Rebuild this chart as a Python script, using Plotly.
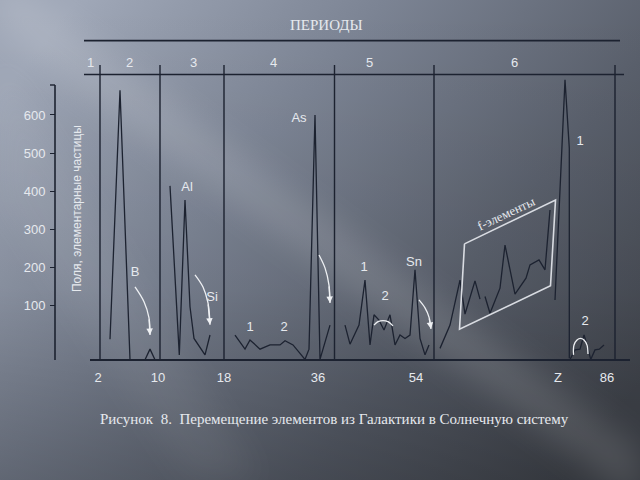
import base64
import plotly.graph_objects as go

# ---------------- data (x = horizontal position along Z-scale, y = value) ----------------
p2_x = [110, 120, 130]
p2_y = [12, 665, -42]
p2b_x = [145, 150, 155]
p2b_y = [-42, -14, -42]

p3_x = [170, 179.3, 185, 190, 194, 205, 210]
p3_y = [414, -29, 377, 97, 14, -29, 23]

p4_x = [235, 245, 250, 260, 270, 280, 285, 293, 300, 305, 309, 315, 320, 330]
p4_y = [23, -14, 10, -14, -3, -3, 8, -3, -25, -41, -14, 600, -41, 49]

p5_x = [345, 350, 359, 365, 370, 374, 379, 384, 390, 395, 400, 405, 410, 415, 420, 425, 429]
p5_y = [49, -1, 49, 167, -3, 76, 62, 36, 76, -3, 23, 14, 23, 194, 14, -29, -3]

p6a_x = [440, 450, 460, 465, 475, 480]
p6a_y = [-12, 49, 167, 78, 165, 117]
p6b_x = [485, 490, 500, 505, 515, 526, 530, 539, 545, 550]
p6b_y = [124, 80, 146, 259, 130, 172, 207, 220, 194, 351]
p6c_x = [555, 565, 569.3, 569.3]
p6c_y = [115, 692, 513, -38]
p6d_x = [570, 575, 580, 584, 586.7, 590.7, 595, 599.3, 604]
p6d_y = [-41, -16, -14, 23, 1, -41, -16, -14, -3]

# f-elements frame
fbox_x = [464.5, 555.5, 550.5, 459.5, 464.5]
fbox_y = [262, 377, 152, 38, 262]

# arrows / arcs
arr_B_x = [135, 144, 149, 150]
arr_B_y = [149, 110, 68, 23]
arr_Si_x = [195, 203, 208, 210]
arr_Si_y = [181, 149, 107, 50]
arr_As_x = [319, 325, 329, 330]
arr_As_y = [233, 199, 154, 107]
arr_Sn_x = [419, 425, 429, 431]
arr_Sn_y = [115, 94, 70, 39]
arc5_x = [374, 378, 383, 388, 393]
arc5_y = [49, 58, 61, 58, 47]
arc6_x = [573.5, 574, 577, 580.5, 584, 587, 588]
arc6_y = [-29, -3, 10, 14, 10, -3, -27]

# element labels
lab_text = ["B", "Al", "Si", "As", "1", "2", "1", "2", "Sn", "1", "2"]
lab_x = [135, 187, 212, 299, 250, 284, 364, 385, 414, 580, 585]
lab_y = [186, 409, 120, 589, 41, 41, 199, 123, 212, 529, 57]

# axes labels
y_ticks = [100, 200, 300, 400, 500, 600]
x_tick_pos = [98, 158, 224, 318, 416, 558, 607]
x_tick_text = ["2", "10", "18", "36", "54", "Z", "86"]
period_text = ["1", "2", "3", "4", "5", "6"]
period_pos = [90, 129, 193, 273, 369, 514]
period_bounds = [100, 160, 224, 334.5, 434, 615]

# ---------------- geometry helpers ----------------
Y0 = 343.8
K = 0.3814


def val(py):
    return (Y0 - py) / K


LINE = "#1c2230"
TXT = "#e6e9ee"
WHITE = "#eef0f3"

fig = go.Figure()

for xs, ys in [(p2_x, p2_y), (p2b_x, p2b_y), (p3_x, p3_y), (p4_x, p4_y), (p5_x, p5_y),
               (p6a_x, p6a_y), (p6b_x, p6b_y), (p6c_x, p6c_y), (p6d_x, p6d_y)]:
    fig.add_trace(go.Scatter(x=xs, y=ys, mode="lines",
                             line=dict(color=LINE, width=1.3), hoverinfo="skip"))

fig.add_trace(go.Scatter(x=fbox_x, y=fbox_y, mode="lines",
                         line=dict(color="#d9dce2", width=1.6), hoverinfo="skip"))

for xs, ys in [(arr_B_x, arr_B_y), (arr_Si_x, arr_Si_y), (arr_As_x, arr_As_y),
               (arr_Sn_x, arr_Sn_y), (arc5_x, arc5_y), (arc6_x, arc6_y)]:
    fig.add_trace(go.Scatter(x=xs, y=ys, mode="lines",
                             line=dict(color=WHITE, width=1.3, shape="spline"),
                             hoverinfo="skip"))

annotations = []
for xs, ys in [(arr_B_x, arr_B_y), (arr_Si_x, arr_Si_y), (arr_As_x, arr_As_y),
               (arr_Sn_x, arr_Sn_y)]:
    annotations.append(dict(x=xs[-1], y=ys[-1], ax=xs[-2], ay=ys[-2],
                            xref="x", yref="y", axref="x", ayref="y", text="",
                            showarrow=True, arrowhead=2, arrowsize=1,
                            arrowwidth=1.3, arrowcolor=WHITE))

fig.add_trace(go.Scatter(x=lab_x, y=lab_y, mode="text", text=lab_text,
                         textfont=dict(family="Liberation Sans", size=13, color=TXT),
                         hoverinfo="skip"))

# f-elements label
annotations.append(dict(x=506, y=val(213), xref="x", yref="y", text="f-элементы",
                        showarrow=False, textangle=-25, yanchor="middle", xanchor="center",
                        font=dict(family="Liberation Serif", size=13, color=TXT)))

# period numbers
for t, px in zip(period_text, period_pos):
    annotations.append(dict(x=px, y=val(62), xref="x", yref="y", text=t, showarrow=False,
                            yanchor="middle", xanchor="center",
                            font=dict(family="Liberation Sans", size=13, color=TXT)))

annotations.append(dict(x=326 / 640, y=1 - 25 / 480, xref="paper", yref="paper",
                        text="ПЕРИОДЫ", showarrow=False, yanchor="middle", xanchor="center",
                        font=dict(family="Liberation Serif", size=15, color=TXT)))
annotations.append(dict(x=77, y=val(209), xref="x", yref="y",
                        text="Поля, элементарные частицы", showarrow=False, textangle=-90,
                        yanchor="middle", xanchor="center",
                        font=dict(family="Liberation Sans", size=12, color=TXT)))
annotations.append(dict(x=334 / 640, y=1 - 419 / 480, xref="paper", yref="paper",
                        text="Рисунок  8.  Перемещение элементов из Галактики в Солнечную систему",
                        showarrow=False, yanchor="middle", xanchor="center",
                        font=dict(family="Liberation Serif", size=15, color=TXT)))

shapes = []
for bx in period_bounds:
    shapes.append(dict(type="line", x0=bx, x1=bx, y0=val(65), y1=val(360),
                       line=dict(color=LINE, width=1.4)))
shapes.append(dict(type="line", x0=84, x1=620, y0=val(40.7), y1=val(40.7),
                   line=dict(color=LINE, width=1.8)))
shapes.append(dict(type="line", x0=84, x1=624, y0=val(74.5), y1=val(74.5),
                   line=dict(color=LINE, width=1.6)))
shapes.append(dict(type="line", x0=90, x1=630, y0=val(360), y1=val(360),
                   line=dict(color=LINE, width=1.8)))
shapes.append(dict(type="line", x0=55, x1=55, y0=val(85), y1=val(360),
                   line=dict(color=LINE, width=1.6)))
shapes.append(dict(type="line", x0=50, x1=55, y0=val(85), y1=val(85),
                   line=dict(color=LINE, width=1.4)))

# background
svg = """<svg xmlns='http://www.w3.org/2000/svg' width='640' height='480' viewBox='0 0 640 480'>
<defs>
<linearGradient id='g' x1='0' y1='0.2' x2='1' y2='0.8'>
<stop offset='0' stop-color='#a0a8b8'/>
<stop offset='0.35' stop-color='#7c8494'/>
<stop offset='0.7' stop-color='#5a606c'/>
<stop offset='1' stop-color='#43474f'/>
</linearGradient>
<linearGradient id='v' x1='0' y1='0' x2='0' y2='1'>
<stop offset='0' stop-color='#000' stop-opacity='0'/>
<stop offset='0.6' stop-color='#000' stop-opacity='0.05'/>
<stop offset='1' stop-color='#000' stop-opacity='0.22'/>
</linearGradient>
<filter id='b' x='-50%' y='-50%' width='200%' height='200%'><feGaussianBlur stdDeviation='16'/></filter>
</defs>
<rect width='640' height='480' fill='url(#g)'/>
<rect width='640' height='480' fill='url(#v)'/>
<polygon points='0,-25 640,449 640,504 0,30' fill='#ffffff' opacity='0.12' filter='url(#b)'/>
<polygon points='0,60 260,480 190,480 0,200' fill='#ffffff' opacity='0.05' filter='url(#b)'/>
</svg>"""
src = "data:image/svg+xml;base64," + base64.b64encode(svg.encode()).decode()

fig.update_layout(
    width=640, height=480,
    margin=dict(l=0, r=0, t=0, b=0),
    paper_bgcolor="#6a7080",
    plot_bgcolor="rgba(0,0,0,0)",
    showlegend=False,
    images=[dict(source=src, xref="paper", yref="paper", x=0, y=1, sizex=1, sizey=1,
                 sizing="stretch", layer="below")],
    shapes=shapes,
    annotations=annotations,
    xaxis=dict(range=[0, 640], anchor="free", position=1 - 360 / 480,
               tickvals=x_tick_pos, ticktext=x_tick_text, ticks="",
               ticklabelstandoff=8,
               tickfont=dict(family="Liberation Sans", size=13, color=TXT),
               showgrid=False, zeroline=False, showline=False, fixedrange=True),
    yaxis=dict(range=[val(480), val(0)], anchor="free", position=55 / 640, side="left",
               tickvals=y_ticks, ticks="outside", ticklen=5, tickwidth=1.4, tickcolor=LINE,
               ticklabelstandoff=2,
               tickfont=dict(family="Liberation Sans", size=13, color=TXT),
               showgrid=False, zeroline=False, showline=False, fixedrange=True),
)

fig.write_html("out.html")
